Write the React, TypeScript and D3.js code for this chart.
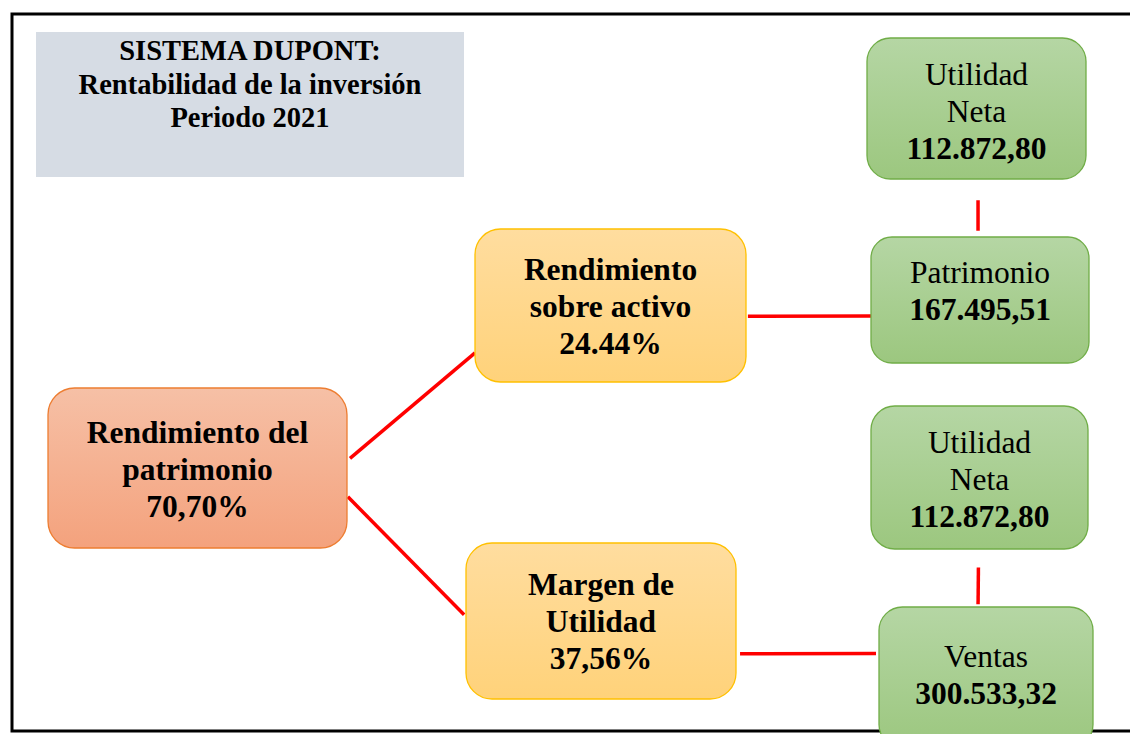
import React from 'react';
import * as d3 from 'd3';

const width = 1130;
const height = 734;

// datos del diagrama
const titleLines = ['SISTEMA DUPONT:', 'Rentabilidad de la inversión', 'Periodo 2021'];
const nodeIds = ['roe', 'roa', 'margen', 'un1', 'patrimonio', 'un2', 'ventas'];
const nodeLabels = [
  ['Rendimiento del', 'patrimonio'],
  ['Rendimiento', 'sobre activo'],
  ['Margen de', 'Utilidad'],
  ['Utilidad', 'Neta'],
  ['Patrimonio'],
  ['Utilidad', 'Neta'],
  ['Ventas'],
];
const nodeValues = ['70,70%', '24.44%', '37,56%', '112.872,80', '167.495,51', '112.872,80', '300.533,32'];
const nodeKinds = ['roe', 'ratio', 'ratio', 'item', 'item', 'item', 'item'];
const links = [
  ['roe', 'roa'],
  ['roe', 'margen'],
  ['roa', 'patrimonio'],
  ['margen', 'ventas'],
  ['un1', 'patrimonio'],
  ['un2', 'ventas'],
];

// posiciones (layout)
const boxes = {
  roe: { x: 48, y: 388, w: 299, h: 160, pad: 55 },
  roa: { x: 475, y: 229, w: 271, h: 153, pad: 51 },
  margen: { x: 466, y: 543, w: 270, h: 156, pad: 52 },
  un1: { x: 867, y: 38, w: 219, h: 141, pad: 47 },
  patrimonio: { x: 871, y: 237, w: 218, h: 126, pad: 46 },
  un2: { x: 871, y: 406, w: 217, h: 143, pad: 47 },
  ventas: { x: 879, y: 607, w: 214, h: 141, pad: 60 },
};
// puntos de enlace: fracciones de la caja origen (s) y destino (t)
const linkPorts = {
  'roe-roa': { s: [1.01, 0.44], t: [0, 0.81] },
  'roe-margen': { s: [1.003, 0.68], t: [-0.007, 0.46] },
  'roa-patrimonio': { s: [1.007, 0.57], t: [0, 0.627] },
  'margen-ventas': { s: [1.015, 0.71], t: [-0.014, 0.33] },
  'un1-patrimonio': { s: [0.507, 1.15], t: [0.491, -0.05] },
  'un2-ventas': { s: [0.495, 1.13], t: [0.463, -0.02] },
};

const styles = {
  roe: { top: '#F6C0A6', bottom: '#F4A27D', stroke: '#ED7D31' },
  ratio: { top: '#FFDD9F', bottom: '#FFD27A', stroke: '#FFC000' },
  item: { top: '#B5D6A4', bottom: '#9CC77F', stroke: '#70AD47' },
};

const fontFamily = '"Liberation Serif", "Times New Roman", serif';
const lineGap = 37;

function App() {
  const line = d3.line<number[]>().x((d) => d[0]).y((d) => d[1]);

  const port = (id: string, f: number[]) => {
    const b = boxes[id];
    return [b.x + b.w * f[0], b.y + b.h * f[1]];
  };

  return (
    <svg width={width} height={height} style={{ position: 'absolute', left: 0, top: 0, background: '#fff' }}>
      <defs>
        {Object.keys(styles).map((k) => (
          <linearGradient key={k} id={'grad-' + k} x1="0" y1="0" x2="0" y2="1">
            <stop offset="0%" stopColor={styles[k].top} />
            <stop offset="100%" stopColor={styles[k].bottom} />
          </linearGradient>
        ))}
      </defs>

      {/* marco */}
      <path d="M1130,14 H12 V731 H1130" fill="none" stroke="#000" strokeWidth={3} />

      {/* título */}
      <rect x={36} y={32} width={428} height={145} fill="#D6DCE4" />
      {titleLines.map((t, i) => (
        <text key={i} x={250} y={60 + i * 33.5} textAnchor="middle" fontFamily={fontFamily}
          fontWeight="bold" fontSize={28.5} fill="#000">{t}</text>
      ))}

      {/* enlaces */}
      {links.map(([s, t]) => {
        const p = linkPorts[s + '-' + t];
        return (
          <path key={s + t} d={line([port(s, p.s), port(t, p.t)]) || ''}
            stroke="#FF0000" strokeWidth={3.5} fill="none" />
        );
      })}

      {/* nodos */}
      {nodeIds.map((id, i) => {
        const b = boxes[id];
        const st = styles[nodeKinds[i]];
        const bold = nodeKinds[i] !== 'item';
        const r = Math.min(b.w, b.h) * 0.1667;
        const lines = nodeLabels[i];
        return (
          <g key={id}>
            <rect x={b.x} y={b.y} width={b.w} height={b.h} rx={r} ry={r}
              fill={`url(#grad-${nodeKinds[i]})`} stroke={st.stroke} strokeWidth={1.3} />
            {lines.map((t, j) => (
              <text key={j} x={b.x + b.w / 2} y={b.y + b.pad + j * lineGap} textAnchor="middle"
                fontFamily={fontFamily} fontWeight={bold ? 'bold' : 'normal'} fontSize={31.5} fill="#000">{t}</text>
            ))}
            <text x={b.x + b.w / 2} y={b.y + b.pad + lines.length * lineGap} textAnchor="middle"
              fontFamily={fontFamily} fontWeight="bold" fontSize={31.5} fill="#000">{nodeValues[i]}</text>
          </g>
        );
      })}
    </svg>
  );
}

export default App;
